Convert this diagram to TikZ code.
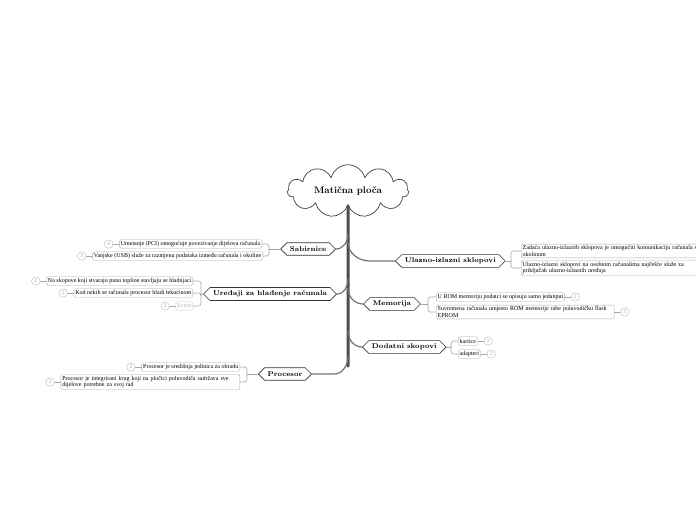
\documentclass[tikz,border=0pt]{standalone}
\usepackage{fontspec}
\newfontfamily\leaffont{Liberation Serif}
\usetikzlibrary{shapes.symbols,positioning}

\begin{document}
\begin{tikzpicture}[x=1pt,y=-1pt,line cap=round,line join=round,
    leaf/.style={draw=gray!65,rounded corners=1.5pt,fill=white,inner xsep=1.5pt,inner ysep=1.5pt,
      minimum height=8.5pt,align=left,font=\leaffont\fontsize{6}{6.5}\selectfont},
    faded/.style={leaf,draw=gray!40,text=gray!55},
    num/.style={circle,draw=gray!55,fill=white,inner sep=0pt,minimum size=8.5pt,text=gray!70,
      font=\leaffont\fontsize{5.5}{5.5}\selectfont},
    branch/.style={signal,signal to=west and east,draw=black!80,fill=white,line width=0.6pt,
      minimum height=12.5pt,inner xsep=3pt,font=\bfseries\fontsize{7}{8}\selectfont},
    trunk/.style={draw=black!70,line width=3pt},
    limb/.style={draw=black!55,line width=1.2pt},
    twig/.style={draw=gray!70,line width=0.6pt,rounded corners=2.5pt}]
  \useasboundingbox (0,0) rectangle (696,520);
  \clip (0,0) rectangle (696,520);

  % centre
  \node[cloud,cloud puffs=11,aspect=3.4,draw=black!75,fill=white,line width=0.7pt,
    minimum width=121pt,minimum height=32pt,font=\bfseries\fontsize{9.5}{11}\selectfont]
    (mp) at (348,191) {Matična ploča};
  \draw[trunk] (mp.south) -- (348,366);

  % branches
  \node[branch,anchor=east] (sab) at (336,249) {Sabirnice};
  \node[branch,anchor=east] (ure) at (337,294) {Uređaji za hlađenje računala};
  \node[branch,anchor=east] (proc) at (312,374) {Procesor};
  \node[branch,anchor=west] (ulaz) at (395,261) {Ulazno-izlazni sklopovi};
  \node[branch,anchor=west] (mem) at (363,304) {Memorija};
  \node[branch,anchor=west] (dod) at (362,347) {Dodatni skopovi};

  \draw[limb] (348,234) to[out=-90,in=0] (sab.east);
  \draw[limb] (348,279) to[out=-90,in=0] (ure.east);
  \draw[limb] (348,356) to[out=-90,in=0] (334,374) -- (proc.east);
  \draw[limb] (348,242) to[out=-90,in=180] (370,261) -- (ulaz.west);
  \draw[limb] (348,288) to[out=-90,in=180] (mem.west);
  \draw[limb] (348,331) to[out=-90,in=180] (dod.west);

  % Sabirnice
  \node[leaf,anchor=east] (s1) at (262,244) {Umetanje (PCI) omogućuje povezivanje dijelova računala};
  \node[leaf,anchor=east] (s2) at (263,256) {Vanjske (USB) služe za razmjenu podataka između računala i okoline};
  \node[num,left=6pt of s1] (s1n) {4};
  \node[num,left=6pt of s2] (s2n) {3};
  \coordinate (sabhub) at (269,249);
  \draw[twig] (sab.west) -- (sabhub);
  \foreach \l in {s1,s2} {
    \draw[twig] (\l.east) -| (sabhub);
    \draw[twig] (\l n) -- (\l);
  }

  % Uredaji za hladenje
  \node[leaf,anchor=east] (u1) at (193,281) {Na skopove koji stvaraju puno topline stavljaju se hladnjaci};
  \node[leaf,anchor=east] (u2) at (193,293) {Kod nekih se računala procesor hladi tekućinom};
  \node[faded,anchor=east] (u3) at (193,306) {Event};
  \node[num,left=6pt of u1] (u1n) {2};
  \node[num,left=6pt of u2] (u2n) {2};
  \node[num,left=6pt of u3] (u3n) {2};
  \coordinate (urehub) at (201,294);
  \draw[twig] (ure.west) -- (urehub);
  \foreach \l in {u1,u2,u3} {
    \draw[twig] (\l.east) -| (urehub);
    \draw[twig] (\l n) -- (\l);
  }

  % Procesor
  \node[leaf,anchor=east] (p1) at (240,367) {Procesor je središnja jedinica za obradu};
  \node[leaf,anchor=east,text width=176pt] (p2) at (240,382) {Procesor je integrirani krug koji na pločici poluvodiča sadržava sve\\dijelove potrebne za svoj rad};
  \node[num,left=6pt of p1] (p1n) {2};
  \node[num,left=6pt of p2] (p2n) {2};
  \coordinate (prochub) at (247,374);
  \draw[twig] (proc.west) -- (prochub);
  \foreach \l in {p1,p2} {
    \draw[twig] (\l.east) -| (prochub);
    \draw[twig] (\l n) -- (\l);
  }

  % Ulazno-izlazni sklopovi
  \node[leaf,anchor=west,text width=176pt] (i1) at (521,251) {Zadaća ulazno-izlaznih sklopova je omogućiti komunikaciju računala s\\okolinom};
  \node[leaf,anchor=west,text width=176pt] (i2) at (521,268) {Ulazno-izlazni sklopovi na osobnim računalima najčešće služe za\\priključak ulazno-izlaznih uređaja};
  \coordinate (ulazhub) at (511,261);
  \draw[twig] (ulaz.east) -- (ulazhub);
  \foreach \l in {i1,i2}
    \draw[twig] (\l.west) -| (ulazhub);

  % Memorija
  \node[leaf,anchor=west] (m1) at (436,297) {U ROM memoriju podatci se upisuju samo jedanput};
  \node[leaf,anchor=west,text width=175pt] (m2) at (436,312) {Suvremena računala umjesto ROM memorije rabe poluvodičku flash\\EPROM};
  \node[num,right=6pt of m1] (m1n) {2};
  \node[num,right=6pt of m2] (m2n) {3};
  \coordinate (memhub) at (428,304);
  \draw[twig] (mem.east) -- (memhub);
  \foreach \l in {m1,m2} {
    \draw[twig] (\l.west) -| (memhub);
    \draw[twig] (\l) -- (\l n);
  }

  % Dodatni skopovi
  \node[leaf,anchor=west] (d1) at (458,341) {kartice};
  \node[leaf,anchor=west] (d2) at (458,354) {adapteri};
  \node[num,right=6pt of d1] (d1n) {2};
  \node[num,right=6pt of d2] (d2n) {2};
  \coordinate (dodhub) at (451,347);
  \draw[twig] (dod.east) -- (dodhub);
  \foreach \l in {d1,d2} {
    \draw[twig] (\l.west) -| (dodhub);
    \draw[twig] (\l) -- (\l n);
  }
\end{tikzpicture}
\end{document}
